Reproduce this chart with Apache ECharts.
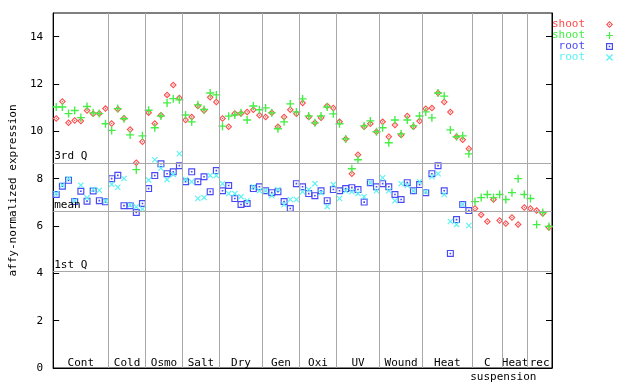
<!DOCTYPE html>
<html><head><meta charset="utf-8">
<script src="https://cdn.jsdelivr.net/npm/echarts@6/dist/echarts.min.js"></script>
<style>html,body{margin:0;padding:0;background:#fff}#c{width:640px;height:384px}</style>
</head><body><div id="c"></div><script>
const groupNames = ['Cont','Cold','Osmo','Salt','Dry','Gen','Oxi','UV','Wound','Heat','C\n{s|suspension}','Heat','rec'];
const groupSizes = [9,6,6,6,7,6,6,7,7,8,5,4,4];
const yTickValues = [0,2,4,6,8,10,12,14];
const quartileNames = ['3rd Q','mean','1st Q'];
const quartileValues = [8.67,6.62,4.07];
const seriesNames = ['shoot#1','shoot#2','root#1','root#2'];

const shootA = [10.54,11.26,10.36,10.46,10.44,10.88,10.74,10.75,10.96,
  10.33,10.93,10.55,10.08,8.67,9.56,
  10.79,10.33,10.68,11.54,11.96,11.41,
  10.48,10.61,11.07,10.88,11.44,11.24,
  10.54,10.19,10.75,10.75,10.82,10.91,10.68,
  10.61,10.78,10.19,10.61,10.91,10.74,
  11.2,10.61,10.36,10.57,11.07,10.99,
  10.4,9.68,8.21,9.01,10.19,10.32,9.98,
  10.4,9.77,10.27,9.85,10.65,10.19,10.44,
  10.95,10.99,11.62,11.24,10.82,9.77,9.64,9.26,
  6.74,6.48,6.19,7.12,6.23,
  6.11,6.36,6.06,6.78,
  6.74,6.65,6.53,5.94];
const shootB = [11.03,11.03,10.75,10.88,10.58,11.05,10.78,10.75,10.32,
  10.04,10.96,10.53,9.85,8.38,9.81,
  10.89,10.15,10.65,11.2,11.38,11.33,
  10.69,10.4,11.12,10.92,11.62,11.54,
  10.22,10.64,10.69,10.78,10.48,11.07,10.91,
  10.99,10.78,10.11,10.4,11.16,10.82,
  11.37,10.65,10.36,10.65,11.03,10.74,
  10.32,9.68,8.42,8.8,10.23,10.44,9.98,
  10.15,9.52,10.48,9.89,10.48,10.23,10.65,
  10.82,10.57,11.62,11.49,10.06,9.77,9.81,9.05,
  7.03,7.2,7.33,7.2,7.33,
  7.12,7.41,8.0,7.33,
  7.16,6.06,6.57,5.98];
const rootA = [7.33,7.68,7.93,7.03,7.47,7.05,7.48,7.07,7.02,
  8.0,8.14,6.86,6.86,6.57,6.95,
  7.58,8.13,8.63,8.21,8.29,8.55,
  7.87,8.29,7.87,8.08,7.45,8.34,
  7.49,7.71,7.16,6.91,6.95,7.58,7.66,
  7.49,7.41,7.45,7.03,6.74,7.79,
  7.66,7.37,7.28,7.49,7.07,7.54,
  7.49,7.58,7.62,7.54,7.01,7.83,7.66,
  7.79,7.66,7.33,7.12,7.83,7.49,7.75,
  7.41,8.21,8.55,7.49,4.84,6.27,6.91,6.65,
  null,null,null,null,null,
  null,null,null,null,
  null,null,null,null];
const rootB = [7.37,7.72,8.0,7.06,7.72,7.19,7.54,7.51,7.06,
  7.76,7.64,8.01,6.89,6.81,6.72,
  7.94,8.8,8.44,7.96,8.18,9.05,
  7.96,7.87,7.16,7.2,8.13,8.13,
  7.79,7.37,7.37,7.24,7.07,7.66,7.49,
  7.49,7.28,7.54,6.91,7.12,7.12,
  7.45,7.54,7.79,7.41,6.82,7.75,
  7.16,7.49,7.45,7.37,7.24,7.83,7.49,
  8.04,7.49,7.07,7.79,7.71,7.49,7.87,
  7.45,8.08,8.21,7.33,6.19,6.06,6.91,6.02,
  null,null,null,null,null,
  null,null,null,null,
  null,null,null,null];

const FONT = 'DejaVu Sans Mono';
const colors = ['#ff4a4a', '#44ee44', '#4a4af5', '#5af2f2'];
const symbols = [
  'path://M3,0L6,3L3,6L0,3Z M3,1.3L1.3,3L3,4.7L4.7,3Z M3,2.3L3.7,3L3,3.7L2.3,3Z',
  'path://M2.9,0H4.1V2.9H7V4.1H4.1V7H2.9V4.1H0V2.9H2.9Z',
  'path://M0,0H6V6H0Z M1,1V5H5V1Z M2.3,2.3H3.7V3.7H2.3Z',
  'path://M0,0.8L0.8,0L3,2.2L5.2,0L6,0.8L3.8,3L6,5.2L5.2,6L3,3.8L0.8,6L0,5.2L2.2,3Z'
];
const symbolSizes = [7, 8, 7, 6];
const allValues = [shootA, shootB, rootA, rootB];

const total = groupSizes.reduce((a, b) => a + b, 0);
const bounds = [];
const centers = [];
let acc = 0;
groupSizes.forEach((s, i) => {
  centers.push(acc + s / 2);
  acc += s;
  if (i < groupSizes.length - 1) bounds.push(acc);
});

const toPoints = arr => arr.map((v, i) => v == null ? null : [i + 0.5, v]).filter(p => p);

const scatterSeries = seriesNames.map((n, k) => ({
  name: n,
  type: 'scatter',
  z: 3,
  symbol: symbols[k],
  symbolSize: symbolSizes[k],
  itemStyle: { color: colors[k], opacity: 1 },
  data: toPoints(allValues[k])
}));

const chart = echarts.init(document.getElementById('c'), null, { renderer: 'canvas' });
chart.setOption({
  animation: false,
  backgroundColor: '#fff',
  textStyle: { fontFamily: FONT },
  grid: { left: 44, right: 88, top: 13, bottom: 15, show: true, borderColor: '#000', borderWidth: 1 },
  legend: {
    orient: 'vertical',
    align: 'right',
    right: 27,
    top: 19,
    padding: 0,
    itemGap: 0,
    itemWidth: 7,
    itemHeight: 7,
    selectedMode: false,
    formatter: n => n.split('#')[0],
    textStyle: { fontFamily: FONT, fontSize: 11, lineHeight: 11, padding: [0, 16, 0, 0] },
    data: seriesNames.map((n, k) => ({ name: n, textStyle: { color: colors[k] } }))
  },
  xAxis: {
    type: 'value', min: 0, max: total,
    axisLine: { lineStyle: { color: '#000', width: 1 } },
    axisTick: { show: false },
    splitLine: { show: false },
    axisLabel: {
      customValues: centers,
      margin: -12,
      color: '#000', fontFamily: FONT, fontSize: 11, lineHeight: 14,
      formatter: v => {
        const i = centers.findIndex(c => Math.abs(c - v) < 0.01);
        return i >= 0 ? groupNames[i] : '';
      },
      rich: { s: { fontFamily: FONT, fontSize: 11, lineHeight: 14, color: '#000', padding: [0, 0, 0, 32] } }
    }
  },
  yAxis: [{
    type: 'value', min: 0, max: 15, position: 'left',
    name: 'affy-normalized expression', nameLocation: 'middle', nameGap: 32,
    nameTextStyle: { fontFamily: FONT, fontSize: 11, color: '#000' },
    axisLine: { show: true, lineStyle: { color: '#000' } },
    axisTick: { show: true, inside: true, length: 6, customValues: yTickValues, lineStyle: { color: '#000' } },
    axisLabel: { customValues: yTickValues, margin: 10, color: '#000', fontFamily: FONT, fontSize: 11 },
    splitLine: { show: false }
  }, {
    type: 'value', min: 0, max: 15, position: 'right',
    axisLine: { show: true, lineStyle: { color: '#000' } },
    axisTick: { show: true, inside: true, length: 6, customValues: yTickValues, lineStyle: { color: '#000' } },
    axisLabel: { show: false },
    splitLine: { show: false }
  }],
  series: [{
    name: 'guides',
    type: 'scatter',
    z: 1,
    data: [],
    silent: true,
    markLine: {
      silent: true,
      symbol: ['none', 'none'],
      animation: false,
      lineStyle: { color: '#a8a8a8', width: 1, type: 'solid' },
      data: bounds.map(b => ({ xAxis: b, label: { show: false } })).concat(
        quartileValues.map((v, i) => ({
          yAxis: v,
          label: {
            show: true, formatter: quartileNames[i], position: 'insideStartTop', distance: 1,
            color: '#000', fontFamily: FONT, fontSize: 11
          }
        })))
    }
  }].concat(scatterSeries)
});
</script></body></html>
